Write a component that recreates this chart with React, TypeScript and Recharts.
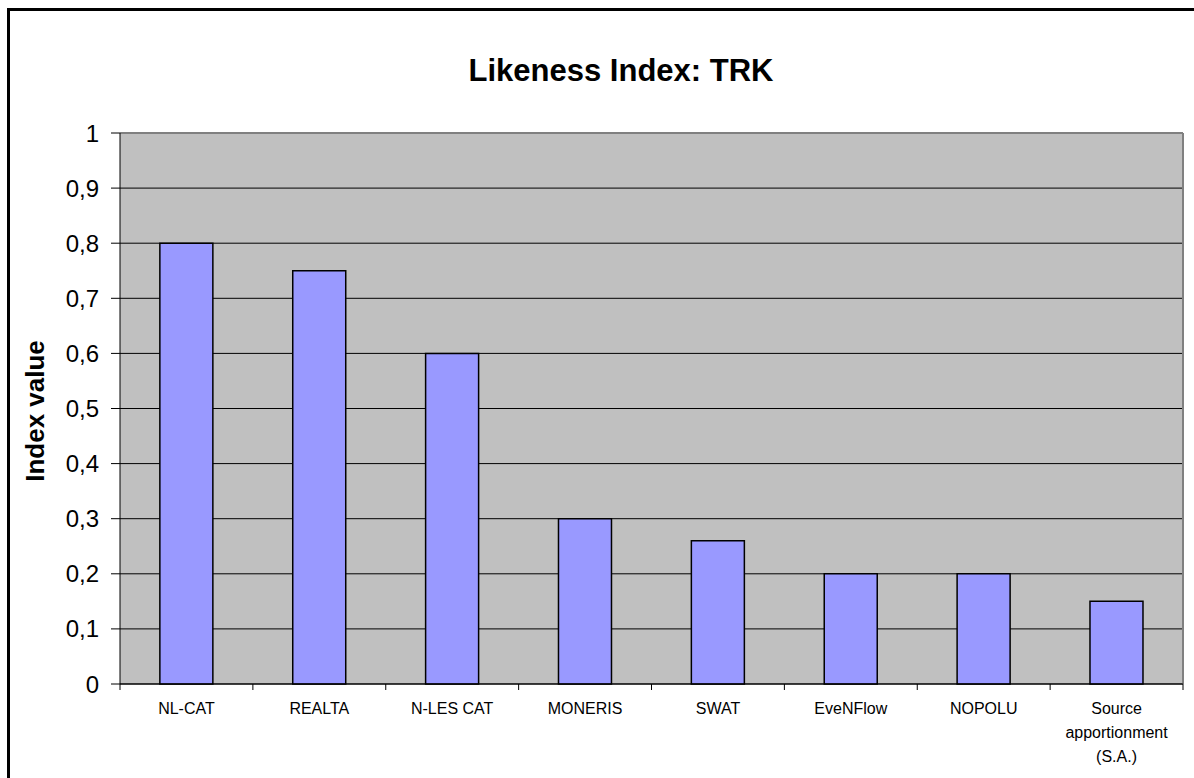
import React from "react";
import {
  BarChart,
  Bar,
  XAxis,
  YAxis,
  CartesianGrid,
  ReferenceLine,
  Text,
} from "recharts";

const categories = [
  "NL-CAT",
  "REALTA",
  "N-LES CAT",
  "MONERIS",
  "SWAT",
  "EveNFlow",
  "NOPOLU",
  "Source apportionment (S.A.)",
];
const indexValues = [0.8, 0.75, 0.6, 0.3, 0.26, 0.2, 0.2, 0.15];
const yTicks = [0, 0.1, 0.2, 0.3, 0.4, 0.5, 0.6, 0.7, 0.8, 0.9, 1];

const data = categories.map((name, i) => ({ name, value: indexValues[i] }));

const FONT = '"Liberation Sans", Arial, sans-serif';

// label plus the small tick marks that sit between categories
const CategoryTick = ({ x, y, payload, index, width }: any) => {
  const band = width / categories.length;
  const left = x - band / 2;
  const right = x + band / 2;
  return (
    <g>
      <line x1={left} x2={left} y1={y} y2={y + 6} stroke="#000" />
      {index === categories.length - 1 && (
        <line x1={right} x2={right} y1={y} y2={y + 6} stroke="#000" />
      )}
      <Text
        x={x}
        y={y + 19}
        width={116}
        textAnchor="middle"
        verticalAnchor="start"
        lineHeight="24px"
        fontSize={16}
        fontFamily={FONT}
        fill="#000"
      >
        {payload.value}
      </Text>
    </g>
  );
};

export default function App() {
  return (
    <div
      style={{
        position: "fixed",
        left: 0,
        top: 0,
        width: 1194,
        height: 778,
        overflow: "hidden",
        background: "#fff",
        fontFamily: FONT,
      }}
    >
      <div
        style={{
          position: "absolute",
          left: 7,
          top: 8,
          width: 1200,
          height: 800,
          borderTop: "3px solid #000",
          borderLeft: "3px solid #000",
        }}
      />
      <div
        style={{
          position: "absolute",
          left: 421,
          width: 400,
          top: 52,
          textAlign: "center",
          fontSize: 31,
          fontWeight: "bold",
          lineHeight: "38px",
        }}
      >
        Likeness Index: TRK
      </div>
      <div
        style={{
          position: "absolute",
          left: 35,
          top: 411,
          transform: "translate(-50%, -50%) rotate(-90deg)",
          fontSize: 26,
          fontWeight: "bold",
          whiteSpace: "nowrap",
        }}
      >
        Index value
      </div>
      <div style={{ position: "absolute", left: 0, top: 0 }}>
        <BarChart
          width={1194}
          height={778}
          data={data}
          margin={{ top: 133, right: 11, left: 0, bottom: 0 }}
          barCategoryGap="30%"
        >
          <CartesianGrid
            vertical={false}
            fill="#C0C0C0"
            fillOpacity={1}
            stroke="#000"
          />
          <XAxis
            dataKey="name"
            stroke="#000"
            tickLine={false}
            tickSize={0}
            tickMargin={0}
            height={94}
            interval={0}
            tick={<CategoryTick />}
          />
          <YAxis
            width={120}
            domain={[0, 1]}
            ticks={yTicks}
            interval={0}
            tickSize={9}
            tickMargin={12}
            stroke="#000"
            tick={{ fill: "#000", fontSize: 24, fontFamily: FONT }}
            tickFormatter={(v: number) => String(v).replace(".", ",")}
          />
          <ReferenceLine y={1} stroke="#808080" strokeWidth={2} />
          <ReferenceLine
            x={categories[categories.length - 1]}
            position="end"
            stroke="#808080"
            strokeWidth={2}
          />
          <Bar
            dataKey="value"
            fill="#9999FF"
            stroke="#000"
            strokeWidth={1.5}
            isAnimationActive={false}
          />
        </BarChart>
      </div>
    </div>
  );
}
